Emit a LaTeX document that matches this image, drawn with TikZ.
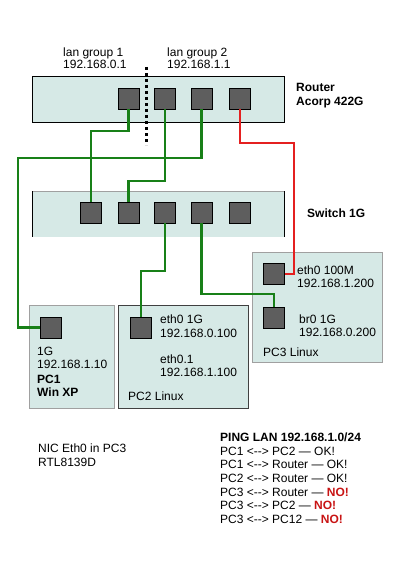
\documentclass[tikz,border=0pt]{standalone}
\usepackage{fontspec}
\setmainfont{Liberation Sans}
\definecolor{boxfill}{RGB}{214,233,230}
\definecolor{portfill}{RGB}{94,94,94}
\definecolor{lgreen}{RGB}{24,128,24}
\definecolor{lred}{RGB}{228,32,32}
\definecolor{nored}{RGB}{200,20,20}
\definecolor{pcborder}{RGB}{160,160,160}
\newcommand\lr{<\kern0pt-\kern0pt-\kern0pt>}
\begin{document}
\begin{tikzpicture}[x=1pt,y=-1pt,
  port/.style={draw=black, line width=0.6pt, fill=portfill, minimum size=21pt, inner sep=0pt},
  txt/.style={anchor=base west, inner sep=0pt, font=\fontsize{12}{13.7}\selectfont},
  btxt/.style={txt, font=\fontsize{12}{13.7}\selectfont\bfseries},
  gline/.style={draw=lgreen, line width=2.2pt},
  rline/.style={draw=lred, line width=2pt}]
\useasboundingbox (0,0) rectangle (401,567);
% boxes
\fill[boxfill] (32,76) rectangle (284,122);
\draw[black, line width=0.8pt] (32,76) rectangle (284,122);
\fill[boxfill] (32,191) rectangle (284,237);
\draw[pcborder, line width=0.5pt] (32,191) -- (284,191);
\draw[black, line width=0.8pt] (32,191) -- (32,237) (284,191) -- (284,237);
\draw[pcborder, line width=0.8pt, fill=boxfill] (252,252) rectangle (382,362);
\draw[pcborder, line width=0.8pt, fill=boxfill] (29,305) rectangle (114,408);
\draw[black!75, line width=0.8pt, fill=boxfill] (118,305) rectangle (248,408);
% dotted separator
\draw[black, line width=3pt, dash pattern=on 3pt off 3pt] (146,67) -- (146,145);
% router ports
\node[port] (r1) at (128.5,98.5) {};
\node[port] (r2) at (165,98.5) {};
\node[port] (r3) at (201.5,98.5) {};
\node[port] (r4) at (240,98.5) {};
% switch ports
\node[port] (s1) at (91,212.5) {};
\node[port] (s2) at (128.5,212.5) {};
\node[port] (s3) at (165,212.5) {};
\node[port] (s4) at (201.5,212.5) {};
\node[port] (s5) at (240,212.5) {};
% pc ports
\node[port] (pc1p) at (51,327.5) {};
\node[port] (pc2p) at (141,327.5) {};
\node[port] (pc3a) at (274,273.5) {};
\node[port] (pc3b) at (274,317.5) {};
% connectors
\draw[gline] (r1.south) -- ++(0,21.5) -| (s1.north);
\draw[gline] (r2.south) -- ++(0,72) -| (s2.north);
\draw[gline] (r3.south) |- (18,158) |- (pc1p.west);
\draw[gline] (s3.south) -- ++(0,48) -| (pc2p.north);
\draw[gline] (s4.south) -- ++(0,71) -| (pc3b.north);
\draw[rline] (r4.south) |- (294,143) |- (pc3a.east);
% labels
\node[txt] (lg1a) at (63,57) {lan group 1};
\node[txt] (lg1b) at (63,69) {192.168.0.1};
\node[txt] (lg2a) at (167,57) {lan group 2};
\node[txt] (lg2b) at (167,69) {192.168.1.1};
\node[btxt] (rt1) at (296,92) {Router};
\node[btxt] (rt2) at (296,106) {Acorp 422G};
\node[btxt] (sw) at (307,217) {Switch 1G};
\node[txt] (p3a) at (297,274) {eth0 100M};
\node[txt] (p3b) at (297,287) {192.168.1.200};
\node[txt] (p3c) at (299,323) {br0 1G};
\node[txt] (p3d) at (299,336) {192.168.0.200};
\node[txt] (p3e) at (263,356) {PC3 Linux};
\node[txt] (p1a) at (37,355) {1G};
\node[txt] (p1b) at (37,368) {192.168.1.10};
\node[btxt] (p1c) at (37,383) {PC1};
\node[btxt] (p1d) at (37,396) {Win XP};
\node[txt] (p2a) at (160,323) {eth0 1G};
\node[txt] (p2b) at (160,337) {192.168.0.100};
\node[txt] (p2c) at (160,363) {eth0.1};
\node[txt] (p2d) at (160,376) {192.168.1.100};
\node[txt] (p2e) at (128,400) {PC2 Linux};
\node[txt] (nic1) at (38,452) {NIC Eth0 in PC3};
\node[txt] (nic2) at (38,466) {RTL8139D};
\node[btxt] (pg0) at (220,441) {PING LAN 192.168.1.0/24};
\node[txt] (pg1) at (220,455) {PC1 \lr{} PC2 — OK!};
\node[txt] (pg2) at (220,468.5) {PC1 \lr{} Router — OK!};
\node[txt] (pg3) at (220,482) {PC2 \lr{} Router — OK!};
\node[txt] (pg4) at (220,496) {PC3 \lr{} Router — \textcolor{nored}{\bfseries NO!}};
\node[txt] (pg5) at (220,509) {PC3 \lr{} PC2 — \textcolor{nored}{\bfseries NO!}};
\node[txt] (pg6) at (220,523) {PC3 \lr{} PC12 — \textcolor{nored}{\bfseries NO!}};
\end{tikzpicture}
\end{document}
